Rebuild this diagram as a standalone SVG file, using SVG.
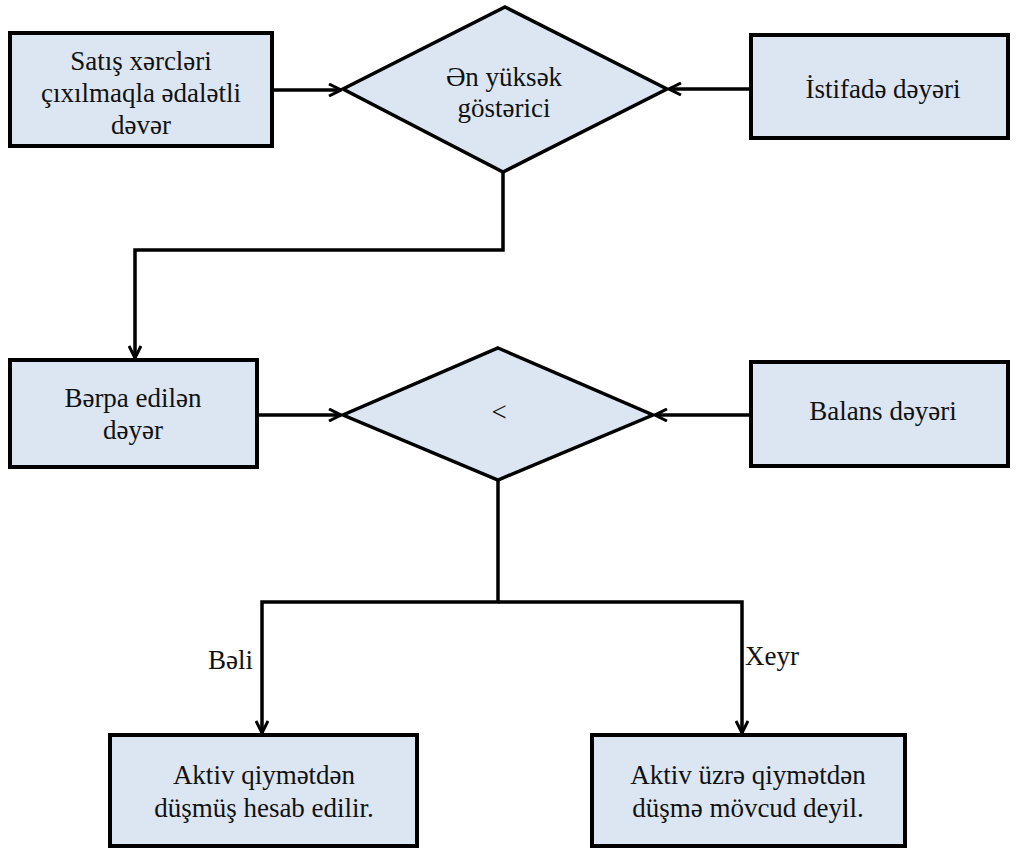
<svg xmlns="http://www.w3.org/2000/svg" width="1020" height="848" viewBox="0 0 1020 848">
<style>
.box{fill:#dce6f2;stroke:#000;stroke-width:4}
.dia{fill:#dce6f2;stroke:#000;stroke-width:3.5;stroke-linejoin:miter}
.c{fill:none;stroke:#000;stroke-width:3.5;stroke-linejoin:miter}
</style>
<defs>
<marker id="arr" viewBox="0 0 14 14" refX="13" refY="7" markerWidth="14" markerHeight="14" markerUnits="userSpaceOnUse" orient="auto">
<path d="M1,1 L13,7 L1,13" fill="none" stroke="#000" stroke-width="3"/>
</marker>
</defs>
<g id="connectors">
<path class="c" d="M272,90 H341" marker-end="url(#arr)"/>
<path class="c" d="M751,89 H669" marker-end="url(#arr)"/>
<path class="c" d="M503,172 V250 H135 V358" marker-end="url(#arr)"/>
<path class="c" d="M257,415 H341" marker-end="url(#arr)"/>
<path class="c" d="M751,415 H655" marker-end="url(#arr)"/>
<path class="c" d="M498,480 V602 H262 V733" marker-end="url(#arr)"/>
<path class="c" d="M498,602 H742 V733" marker-end="url(#arr)"/>
<text x="208" y="669" font-family="Liberation Serif, serif" font-size="27" fill="#111">Bəli</text>
<text x="745" y="665" font-family="Liberation Serif, serif" font-size="27" fill="#111">Xeyr</text>
</g>
<g id="n1">
<rect class="box" x="10" y="33" width="262" height="113"/>
<g font-family="Liberation Serif, serif" font-size="27" fill="#111" text-anchor="middle">
<text x="141" y="70" font-family="Liberation Serif, serif">Satış xərcləri</text>
<text x="141" y="102" font-family="Liberation Serif, serif">çıxılmaqla ədalətli</text>
<text x="141" y="134" font-family="Liberation Serif, serif">dəvər</text>
</g>
</g>
<g id="d1">
<polygon class="dia" points="505,7 667,89 503,172 343,89"/>
<g font-family="Liberation Serif, serif" font-size="27" fill="#111" text-anchor="middle">
<text x="504" y="86" font-family="Liberation Serif, serif">Ən yüksək</text>
<text x="504" y="117" font-family="Liberation Serif, serif">göstərici</text>
</g>
</g>
<g id="n3">
<rect class="box" x="751" y="35" width="257" height="103"/>
<text x="883" y="98" font-family="Liberation Serif, serif" font-size="27" fill="#111" text-anchor="middle">İstifadə dəyəri</text>
</g>
<g id="n2">
<rect class="box" x="10" y="360" width="247" height="107"/>
<g font-family="Liberation Serif, serif" font-size="27" fill="#111" text-anchor="middle">
<text x="133" y="407" font-family="Liberation Serif, serif">Bərpa edilən</text>
<text x="133" y="439" font-family="Liberation Serif, serif">dəyər</text>
</g>
</g>
<g id="d2">
<polygon class="dia" points="498,348 653,415 498,480 343,415"/>
<text x="499" y="421" font-family="Liberation Serif, serif" font-size="27" fill="#111" text-anchor="middle">&lt;</text>
</g>
<g id="n4">
<rect class="box" x="751" y="362" width="257" height="104"/>
<text x="883" y="420" font-family="Liberation Serif, serif" font-size="27" fill="#111" text-anchor="middle">Balans dəyəri</text>
</g>
<g id="n5">
<rect class="box" x="110" y="735" width="307" height="111"/>
<g font-family="Liberation Serif, serif" font-size="27" fill="#111" text-anchor="middle">
<text x="264" y="784" font-family="Liberation Serif, serif">Aktiv qiymətdən</text>
<text x="264" y="817" font-family="Liberation Serif, serif">düşmüş hesab edilir.</text>
</g>
</g>
<g id="n6">
<rect class="box" x="592" y="735" width="313" height="111"/>
<g font-family="Liberation Serif, serif" font-size="27" fill="#111" text-anchor="middle">
<text x="748" y="784" font-family="Liberation Serif, serif">Aktiv üzrə qiymətdən</text>
<text x="748" y="817" font-family="Liberation Serif, serif">düşmə mövcud deyil.</text>
</g>
</g>
</svg>
